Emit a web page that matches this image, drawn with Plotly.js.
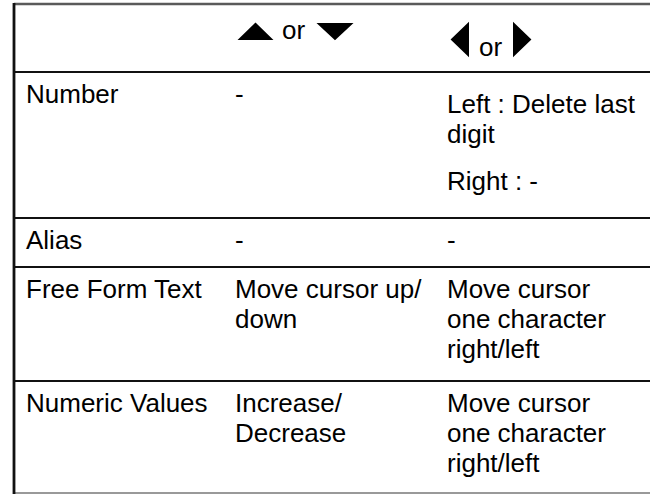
<!DOCTYPE html>
<html>
<head>
<meta charset="utf-8">
<script src="https://cdn.plot.ly/plotly-3.0.1.min.js"></script>
<style>
  html, body { margin: 0; padding: 0; background: #fff; }
  #chart { width: 650px; height: 494px; }
</style>
</head>
<body>
<div id="chart"></div>
<script>
// ---- table content ----
const rowLabels = ["Number", "Alias", "Free Form Text", "Numeric Values"];
const headerJoin = "or";
const headerKeys = [["up", "down"], ["left", "right"]];
// each cell: list of paragraphs, each paragraph uses \n for line breaks
const upDownActions = [["-"], ["-"], ["Move cursor up/\ndown"], ["Increase/\nDecrease"]];
const leftRightActions = [
  ["Left : Delete last\ndigit", "Right : -"],
  ["-"],
  ["Move cursor\none character\nright/left"],
  ["Move cursor\none character\nright/left"]
];

// ---- layout constants (pixels) ----
const W = 650, H = 494;
const topY = 4;
const rowEdges = [72, 218, 267, 381, 493];
const colX = [25, 234, 446];
const leftBorderX = 14;
const LINE = 30, FIRST = 31, PARA_BEFORE = 10, PARA_GAP = 17;
const BASE_SHIFT = 9; // baseline below box middle for 26px Liberation Sans
const FONT = { family: "Liberation Sans, Arial, sans-serif", size: 26, color: "#000" };

const annotations = [];
function addText(txt, x, baseline) {
  annotations.push({
    text: txt, x: x, y: baseline - BASE_SHIFT, xref: "x", yref: "y",
    xanchor: "left", yanchor: "middle", showarrow: false, borderpad: 0,
    font: FONT
  });
}
function addCell(paragraphs, x, rowTop) {
  let base = rowTop + FIRST + (paragraphs.length > 1 ? PARA_BEFORE : 0);
  paragraphs.forEach((p, pi) => {
    if (pi > 0) base += LINE + PARA_GAP;
    p.split("\n").forEach((ln, li) => {
      if (li > 0) base += LINE;
      addText(ln, x, base);
    });
  });
}

rowLabels.forEach((lab, i) => {
  const top = rowEdges[i];
  addCell([lab], colX[0], top);
  addCell(upDownActions[i], colX[1], top);
  addCell(leftRightActions[i], colX[2], top);
});

// header "or" words
addText(headerJoin, 281, 39);
addText(headerJoin, 478, 56);

// ---- shapes: rules and key icons ----
const shapes = [];
shapes.push({ type: "line", xref: "x", yref: "y", x0: leftBorderX, x1: W, y0: topY, y1: topY,
  line: { color: "#5a5a5a", width: 2.5 } });
rowEdges.slice(0, -1).forEach(y => {
  shapes.push({ type: "line", xref: "x", yref: "y", x0: leftBorderX, x1: W, y0: y, y1: y,
    line: { color: "#111", width: 2 } });
});
shapes.push({ type: "line", xref: "x", yref: "y", x0: leftBorderX, x1: W,
  y0: rowEdges[rowEdges.length - 1], y1: rowEdges[rowEdges.length - 1],
  line: { color: "#777", width: 1.5 } });
shapes.push({ type: "line", xref: "x", yref: "y", x0: leftBorderX, x1: leftBorderX, y0: topY - 1, y1: H,
  line: { color: "#111", width: 2.8 } });

const iconBoxes = {
  up:    { x0: 240, x1: 271, y0: 24, y1: 39 },
  down:  { x0: 319, x1: 351, y0: 24, y1: 39 },
  left:  { x0: 452, x1: 468, y0: 24, y1: 55 },
  right: { x0: 514, x1: 530, y0: 24, y1: 55 }
};
function triPath(kind, b) {
  const mx = (b.x0 + b.x1) / 2, my = (b.y0 + b.y1) / 2;
  if (kind === "up") return `M${b.x0},${b.y1} L${mx},${b.y0} L${b.x1},${b.y1} Z`;
  if (kind === "down") return `M${b.x0},${b.y0} L${b.x1},${b.y0} L${mx},${b.y1} Z`;
  if (kind === "left") return `M${b.x1},${b.y0} L${b.x1},${b.y1} L${b.x0},${my} Z`;
  return `M${b.x0},${b.y0} L${b.x0},${b.y1} L${b.x1},${my} Z`;
}
headerKeys.flat().forEach(k => {
  shapes.push({ type: "path", xref: "x", yref: "y", path: triPath(k, iconBoxes[k]),
    fillcolor: "#000", line: { color: "#000", width: 2 } });
});

const data = [{ type: "scatter", x: [0, W], y: [0, H], mode: "markers",
  marker: { opacity: 0 }, hoverinfo: "skip", showlegend: false }];

const layout = {
  width: W, height: H,
  margin: { l: 0, r: 0, t: 0, b: 0 },
  paper_bgcolor: "#fff", plot_bgcolor: "#fff",
  xaxis: { range: [0, W], visible: false, fixedrange: true },
  yaxis: { range: [H, 0], visible: false, fixedrange: true },
  shapes: shapes,
  annotations: annotations,
  showlegend: false
};

Plotly.newPlot("chart", data, layout, { staticPlot: true, displayModeBar: false });
</script>
</body>
</html>
